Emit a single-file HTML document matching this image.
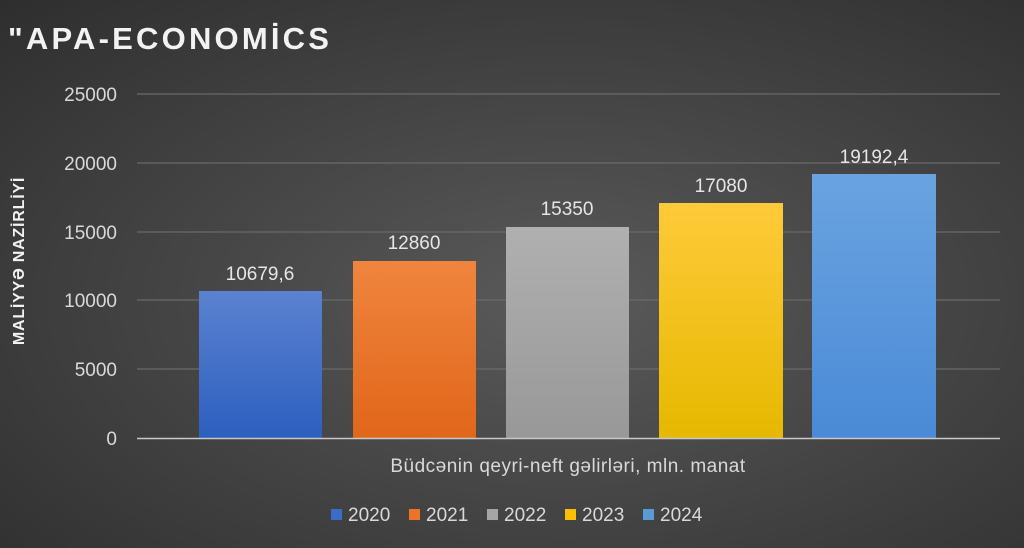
<!DOCTYPE html>
<html><head><meta charset="utf-8"><style>
html,body{margin:0;padding:0;}
body{width:1024px;height:548px;overflow:hidden;background:radial-gradient(ellipse at 55% 55%,#5a5a5a 0%,#464646 45%,#2e2e2e 100%);}
svg{position:absolute;left:0;top:0;font-family:"Liberation Sans","DejaVu Sans",sans-serif;}
</style></head><body>
<svg width="1024" height="548" viewBox="0 0 1024 548">
<defs>
<linearGradient id="g0" x1="0" y1="0" x2="0" y2="1"><stop offset="0" stop-color="#5b82d0"/><stop offset="1" stop-color="#2d5fbf"/></linearGradient>
<linearGradient id="g1" x1="0" y1="0" x2="0" y2="1"><stop offset="0" stop-color="#f0853e"/><stop offset="1" stop-color="#e0661a"/></linearGradient>
<linearGradient id="g2" x1="0" y1="0" x2="0" y2="1"><stop offset="0" stop-color="#b0b0b0"/><stop offset="1" stop-color="#989898"/></linearGradient>
<linearGradient id="g3" x1="0" y1="0" x2="0" y2="1"><stop offset="0" stop-color="#ffca3a"/><stop offset="1" stop-color="#e6b800"/></linearGradient>
<linearGradient id="g4" x1="0" y1="0" x2="0" y2="1"><stop offset="0" stop-color="#6aa3e0"/><stop offset="1" stop-color="#4a8ad6"/></linearGradient>
</defs>
<text x="8" y="49" fill="#f2f2f2" font-size="31" font-weight="bold" letter-spacing="3.2">"APA-ECONOMİCS</text>
<g stroke="#6a6a6a" stroke-width="1.2">
<line x1="137" y1="94" x2="1000" y2="94"/><line x1="137" y1="163" x2="1000" y2="163"/>
<line x1="137" y1="232" x2="1000" y2="232"/><line x1="137" y1="300" x2="1000" y2="300"/>
<line x1="137" y1="369" x2="1000" y2="369"/></g>
<g fill="#d9d9d9" font-size="19" text-anchor="end">
<text x="117" y="101">25000</text><text x="117" y="170">20000</text><text x="117" y="239">15000</text>
<text x="117" y="307">10000</text><text x="117" y="376">5000</text><text x="117" y="445">0</text></g>
<text transform="translate(24,261) rotate(-90)" fill="#f2f2f2" font-size="16" font-weight="bold" text-anchor="middle" letter-spacing="0.8">MALİYYƏ NAZİRLİYİ</text>
<rect x="199" y="291" width="123" height="147" fill="url(#g0)"/>
<rect x="353" y="261" width="123" height="177" fill="url(#g1)"/>
<rect x="506" y="227" width="123" height="211" fill="url(#g2)"/>
<rect x="659" y="203" width="124" height="235" fill="url(#g3)"/>
<rect x="812" y="174" width="124" height="264" fill="url(#g4)"/>
<line x1="137" y1="438.5" x2="1000" y2="438.5" stroke="#c8c8c8" stroke-width="1.5"/>
<g fill="#e6e6e6" font-size="19" text-anchor="middle">
<text x="260" y="280">10679,6</text><text x="414" y="249">12860</text><text x="567" y="215">15350</text>
<text x="721" y="192">17080</text><text x="874" y="163">19192,4</text></g>
<text x="568" y="472" fill="#d9d9d9" font-size="19" letter-spacing="0.5" text-anchor="middle">Büdcənin qeyri-neft gəlirləri, mln. manat</text>
<g font-size="19" fill="#d9d9d9">
<rect x="331" y="509" width="11" height="11" fill="#3a6cc8"/><text x="348" y="521">2020</text>
<rect x="409" y="509" width="11" height="11" fill="#ec7428"/><text x="426" y="521">2021</text>
<rect x="487" y="509" width="11" height="11" fill="#a5a5a5"/><text x="504" y="521">2022</text>
<rect x="565" y="509" width="11" height="11" fill="#ffc000"/><text x="582" y="521">2023</text>
<rect x="643" y="509" width="11" height="11" fill="#5b9bd5"/><text x="660" y="521">2024</text>
</g>
</svg>
</body></html>
